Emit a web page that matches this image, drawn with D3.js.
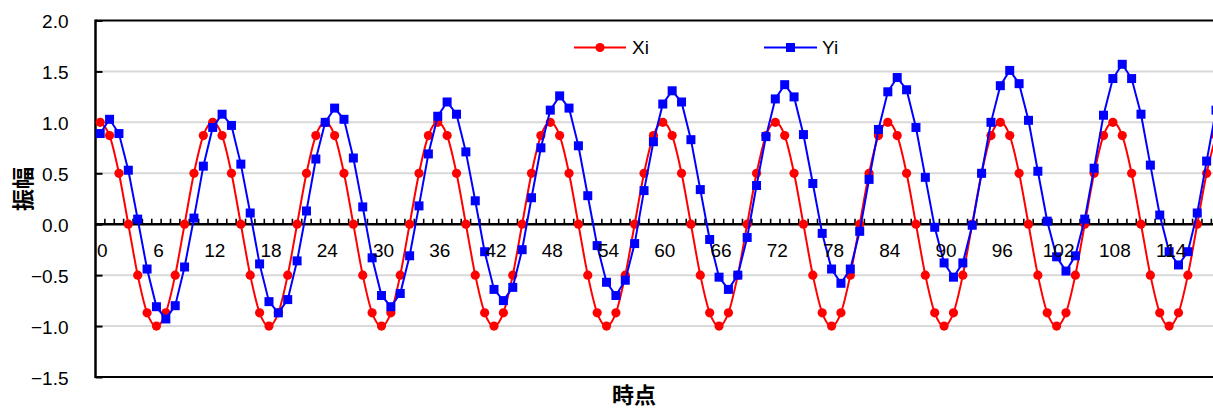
<!DOCTYPE html>
<html>
<head>
<meta charset="utf-8">
<script src="https://cdn.jsdelivr.net/npm/d3@7"></script>
<style>
  html, body { margin: 0; padding: 0; background: #ffffff; }
  svg { display: block; }
</style>
</head>
<body>
<svg id="chart" width="1213" height="408"></svg>
<script>
// ---- data ----
const categories = [
  0, 1, 2, 3, 4, 5, 6, 7, 8, 9, 10, 11,
  12, 13, 14, 15, 16, 17, 18, 19, 20, 21, 22, 23,
  24, 25, 26, 27, 28, 29, 30, 31, 32, 33, 34, 35,
  36, 37, 38, 39, 40, 41, 42, 43, 44, 45, 46, 47,
  48, 49, 50, 51, 52, 53, 54, 55, 56, 57, 58, 59,
  60, 61, 62, 63, 64, 65, 66, 67, 68, 69, 70, 71,
  72, 73, 74, 75, 76, 77, 78, 79, 80, 81, 82, 83,
  84, 85, 86, 87, 88, 89, 90, 91, 92, 93, 94, 95,
  96, 97, 98, 99, 100, 101, 102, 103, 104, 105, 106, 107,
  108, 109, 110, 111, 112, 113, 114, 115, 116, 117, 118, 119
];

const xiValues = [
  1.00, 0.87, 0.50, 0.00, -0.50, -0.87, -1.00, -0.87, -0.50, 0.00, 0.50, 0.87,
  1.00, 0.87, 0.50, 0.00, -0.50, -0.87, -1.00, -0.87, -0.50, 0.00, 0.50, 0.87,
  1.00, 0.87, 0.50, 0.00, -0.50, -0.87, -1.00, -0.87, -0.50, 0.00, 0.50, 0.87,
  1.00, 0.87, 0.50, 0.00, -0.50, -0.87, -1.00, -0.87, -0.50, 0.00, 0.50, 0.87,
  1.00, 0.87, 0.50, 0.00, -0.50, -0.87, -1.00, -0.87, -0.50, 0.00, 0.50, 0.87,
  1.00, 0.87, 0.50, 0.00, -0.50, -0.87, -1.00, -0.87, -0.50, 0.00, 0.50, 0.87,
  1.00, 0.87, 0.50, 0.00, -0.50, -0.87, -1.00, -0.87, -0.50, 0.00, 0.50, 0.87,
  1.00, 0.87, 0.50, 0.00, -0.50, -0.87, -1.00, -0.87, -0.50, 0.00, 0.50, 0.87,
  1.00, 0.87, 0.50, 0.00, -0.50, -0.87, -1.00, -0.87, -0.50, 0.00, 0.50, 0.87,
  1.00, 0.87, 0.50, 0.00, -0.50, -0.87, -1.00, -0.87, -0.50, 0.00, 0.50, 0.87
];

const yiValues = [
  0.89, 1.03, 0.89, 0.53, 0.05, -0.44, -0.81, -0.93, -0.80, -0.42, 0.06, 0.57,
  0.95, 1.08, 0.97, 0.59, 0.11, -0.39, -0.76, -0.87, -0.74, -0.36, 0.13, 0.64,
  1.00, 1.14, 1.03, 0.65, 0.17, -0.33, -0.70, -0.81, -0.68, -0.31, 0.18, 0.69,
  1.06, 1.20, 1.08, 0.71, 0.23, -0.27, -0.64, -0.75, -0.62, -0.25, 0.26, 0.75,
  1.12, 1.26, 1.14, 0.77, 0.28, -0.21, -0.57, -0.70, -0.55, -0.19, 0.33, 0.81,
  1.18, 1.31, 1.20, 0.83, 0.34, -0.15, -0.52, -0.64, -0.50, -0.13, 0.38, 0.86,
  1.23, 1.37, 1.25, 0.88, 0.40, -0.09, -0.44, -0.58, -0.44, -0.07, 0.44, 0.93,
  1.30, 1.44, 1.32, 0.95, 0.46, -0.03, -0.38, -0.52, -0.38, -0.01, 0.50, 1.00,
  1.36, 1.51, 1.38, 1.02, 0.52, 0.03, -0.32, -0.46, -0.31, 0.05, 0.55, 1.07,
  1.43, 1.57, 1.43, 1.08, 0.58, 0.09, -0.27, -0.40, -0.27, 0.11, 0.62, 1.12
];

const xTickLabels = [0, 6, 12, 18, 24, 30, 36, 42, 48, 54, 60, 66, 72, 78, 84, 90, 96, 102, 108, 114];
const yTickValues = [-1.5, -1.0, -0.5, 0.0, 0.5, 1.0, 1.5, 2.0];
const seriesNames = ["Xi", "Yi"];
const xTitle = "時点";
const yTitle = "振幅";

// ---- layout ----
const svg = d3.select("#chart");
const plot = { left: 95.5, right: 1220.7, top: 20.5, bottom: 377 };
const RED = "#ff0000", BLUE = "#0000ff";
const FONT = "'Liberation Sans', Arial, sans-serif";
const CJK = "'Noto Sans CJK JP', 'Noto Sans CJK SC', sans-serif";

const x = d3.scaleBand().domain(categories).range([plot.left, plot.right]).padding(0);
const cx = c => x(c) + x.bandwidth() / 2;
const y = d3.scaleLinear().domain([-1.5, 2.0]).range([plot.bottom, plot.top]);

// horizontal gridlines
svg.append("g")
  .selectAll("line")
  .data(yTickValues.filter(v => v !== -1.5 && v !== 0 && v !== 2.0))
  .join("line")
  .attr("x1", plot.left).attr("x2", plot.right)
  .attr("y1", d => y(d)).attr("y2", d => y(d))
  .attr("stroke", "#d9d9d9").attr("stroke-width", 2);

// plot frame: top and bottom
svg.append("line")
  .attr("x1", plot.left).attr("x2", plot.right)
  .attr("y1", plot.top).attr("y2", plot.top)
  .attr("stroke", "#000").attr("stroke-width", 2);
svg.append("line")
  .attr("x1", plot.left).attr("x2", plot.right)
  .attr("y1", plot.bottom).attr("y2", plot.bottom)
  .attr("stroke", "#000").attr("stroke-width", 2);

// value axis with inward ticks
const yAxis = d3.axisLeft(y)
  .tickValues(yTickValues)
  .tickFormat(d3.format(".1f"))
  .tickSizeInner(-7)
  .tickSizeOuter(0)
  .tickPadding(27);
const gy = svg.append("g")
  .attr("transform", `translate(${plot.left},0)`)
  .call(yAxis);
gy.select(".domain").remove();
gy.selectAll(".tick line").attr("stroke", "#000").attr("stroke-width", 2);
gy.selectAll(".tick text")
  .attr("font-family", FONT).attr("font-size", 19).attr("fill", "#000")
  .attr("dy", "0.38em");
svg.append("line")
  .attr("x1", plot.left).attr("x2", plot.left)
  .attr("y1", plot.top - 1).attr("y2", plot.bottom + 1)
  .attr("stroke", "#000").attr("stroke-width", 2.5);

// category axis line at zero with small upward ticks between categories
const y0 = y(0);
svg.append("g")
  .selectAll("line")
  .data(categories.slice(1))
  .join("line")
  .attr("x1", d => x(d)).attr("x2", d => x(d))
  .attr("y1", y0).attr("y2", y0 - 5.5)
  .attr("stroke", "#000").attr("stroke-width", 1.6);
svg.append("line")
  .attr("x1", plot.left).attr("x2", plot.right)
  .attr("y1", y0).attr("y2", y0)
  .attr("stroke", "#000").attr("stroke-width", 2.5);

// ---- series ----
const xiPts = categories.map((c, i) => [cx(c), y(xiValues[i])]);
const yiPts = categories.map((c, i) => [cx(c), y(yiValues[i])]);

svg.append("path")
  .attr("d", d3.line().curve(d3.curveCardinal.tension(0))(xiPts))
  .attr("fill", "none").attr("stroke", RED).attr("stroke-width", 2);
svg.append("g")
  .selectAll("circle")
  .data(xiPts)
  .join("circle")
  .attr("cx", d => d[0]).attr("cy", d => d[1])
  .attr("r", 4.6).attr("fill", RED);

svg.append("path")
  .attr("d", d3.line()(yiPts))
  .attr("fill", "none").attr("stroke", BLUE).attr("stroke-width", 2);
const SQ = 9;
svg.append("g")
  .selectAll("rect")
  .data(yiPts)
  .join("rect")
  .attr("x", d => d[0] - SQ / 2).attr("y", d => d[1] - SQ / 2)
  .attr("width", SQ).attr("height", SQ).attr("fill", BLUE);

// category labels, drawn above the series
const xAxis = d3.axisBottom(x)
  .tickValues(xTickLabels)
  .tickSize(0)
  .tickPadding(19);
const gx = svg.append("g")
  .attr("transform", `translate(2,${y0})`)
  .call(xAxis);
gx.select(".domain").remove();
gx.selectAll(".tick text")
  .attr("font-family", FONT).attr("font-size", 19).attr("fill", "#000");

// ---- legend ----
const legend = svg.append("g");
const legendItems = [
  { name: seriesNames[0], color: RED, x1: 574, x2: 626, tx: 632, shape: "circle" },
  { name: seriesNames[1], color: BLUE, x1: 764, x2: 817, tx: 822, shape: "square" }
];
const ly = 47.5;
legendItems.forEach(it => {
  legend.append("line")
    .attr("x1", it.x1).attr("x2", it.x2).attr("y1", ly).attr("y2", ly)
    .attr("stroke", it.color).attr("stroke-width", 2);
  const mx = (it.x1 + it.x2) / 2;
  if (it.shape === "circle") {
    legend.append("circle").attr("cx", mx).attr("cy", ly).attr("r", 4.6).attr("fill", it.color);
  } else {
    legend.append("rect").attr("x", mx - SQ / 2).attr("y", ly - SQ / 2)
      .attr("width", SQ).attr("height", SQ).attr("fill", it.color);
  }
  legend.append("text")
    .attr("x", it.tx).attr("y", ly).attr("dy", "0.36em")
    .attr("font-family", FONT).attr("font-size", 19).attr("fill", "#000")
    .text(it.name);
});

// ---- axis titles ----
svg.append("text")
  .attr("transform", "translate(23,189) rotate(-90)")
  .attr("text-anchor", "middle").attr("dy", "0.36em")
  .attr("font-family", CJK).attr("font-size", 22).attr("font-weight", 700)
  .attr("fill", "#000")
  .text(yTitle);
svg.append("text")
  .attr("x", 634).attr("y", 395)
  .attr("text-anchor", "middle").attr("dy", "0.36em")
  .attr("font-family", CJK).attr("font-size", 22).attr("font-weight", 700)
  .attr("fill", "#000")
  .text(xTitle);
</script>
</body>
</html>
